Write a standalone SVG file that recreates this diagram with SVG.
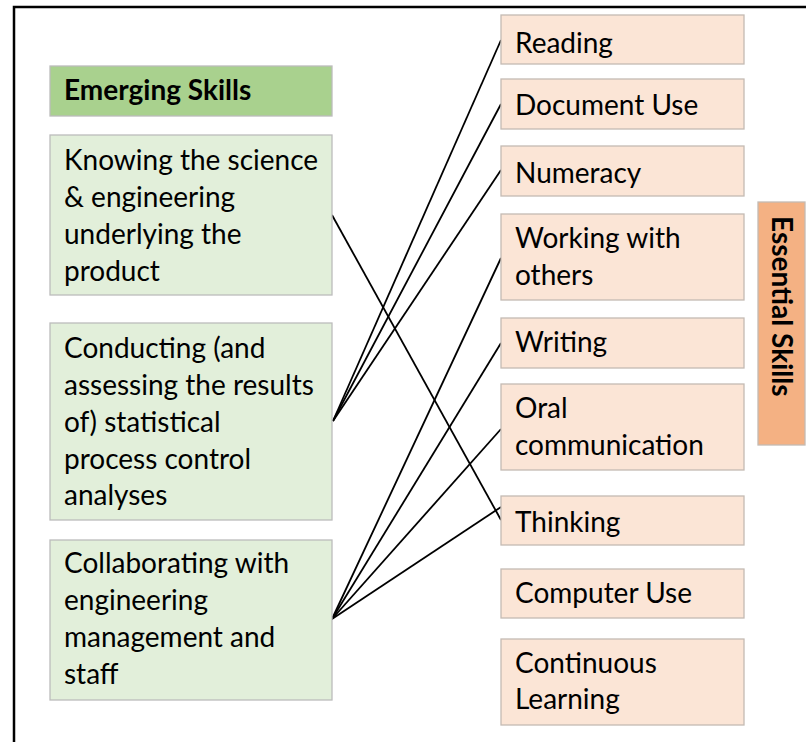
<svg xmlns="http://www.w3.org/2000/svg" width="806" height="742" viewBox="0 0 806 742">
<style>
text{font-family:Lato,"Liberation Sans",sans-serif;font-size:28px;fill:#000}
.l{fill:#e2efda;stroke:#bcbcbc;stroke-width:1.3}
.h{fill:#a9d18e;stroke:#bcbcbc;stroke-width:1.3}
.r{fill:#fbe5d6;stroke:#c4bab3;stroke-width:1.3}
.e{fill:#f4b183;stroke:#c4bab3;stroke-width:1.3}
.b{font-weight:bold}
.c line{stroke:#000;stroke-width:1.8}
</style>
<rect width="806" height="742" fill="#fff"/>
<path d="M14,742 V7 H806" fill="none" stroke="#000" stroke-width="2.5"/>
<g class="c" id="connectors">
<line x1="332" y1="215" x2="501" y2="520"/>
<line x1="333" y1="421" x2="501" y2="40"/>
<line x1="333" y1="421" x2="501" y2="104"/>
<line x1="333" y1="421" x2="501" y2="170"/>
<line x1="332" y1="619" x2="501" y2="258"/>
<line x1="332" y1="619" x2="501" y2="343"/>
<line x1="332" y1="619" x2="501" y2="429"/>
<line x1="332" y1="619" x2="501" y2="507"/>
</g>
<g id="emerging-header"><rect class="h" x="50" y="66" width="282" height="50"/><text class="b" x="64" y="100">Emerging Skills</text></g>
<g id="knowing"><rect class="l" x="50" y="135" width="282" height="160"/><text x="64" y="170">Knowing the science</text><text x="64" y="207">&amp; engineering</text><text x="64" y="244">underlying the</text><text x="64" y="281">product</text></g>
<g id="conducting"><rect class="l" x="50" y="323" width="282" height="197"/><text x="64" y="358">Conducting (and</text><text x="64" y="395">assessing the results</text><text x="64" y="432">of) statistical</text><text x="64" y="469">process control</text><text x="64" y="505">analyses</text></g>
<g id="collaborating"><rect class="l" x="50" y="540" width="282" height="160"/><text x="64" y="573">Collaborating with</text><text x="64" y="610">engineering</text><text x="64" y="647">management and</text><text x="64" y="684">staff</text></g>
<g id="reading"><rect class="r" x="501" y="15" width="243" height="49"/><text x="515" y="53">Reading</text></g>
<g id="document-use"><rect class="r" x="501" y="79" width="243" height="50"/><text x="515" y="115">Document Use</text></g>
<g id="numeracy"><rect class="r" x="501" y="146" width="243" height="50"/><text x="515" y="183">Numeracy</text></g>
<g id="working"><rect class="r" x="501" y="214" width="243" height="86"/><text x="515" y="248">Working with</text><text x="515" y="285">others</text></g>
<g id="writing"><rect class="r" x="501" y="318" width="243" height="50"/><text x="515" y="352">Writing</text></g>
<g id="oral"><rect class="r" x="501" y="384" width="243" height="86"/><text x="515" y="418">Oral</text><text x="515" y="455">communication</text></g>
<g id="thinking"><rect class="r" x="501" y="496" width="243" height="49"/><text x="515" y="532">Thinking</text></g>
<g id="computer-use"><rect class="r" x="501" y="569" width="243" height="49"/><text x="515" y="603">Computer Use</text></g>
<g id="continuous"><rect class="r" x="501" y="639" width="243" height="86"/><text x="515" y="673">Continuous</text><text x="515" y="709">Learning</text></g>
<g id="essential"><rect class="e" x="758" y="202" width="47" height="243"/><text class="b" transform="translate(772,216) rotate(90)">Essential Skills</text></g>
</svg>
